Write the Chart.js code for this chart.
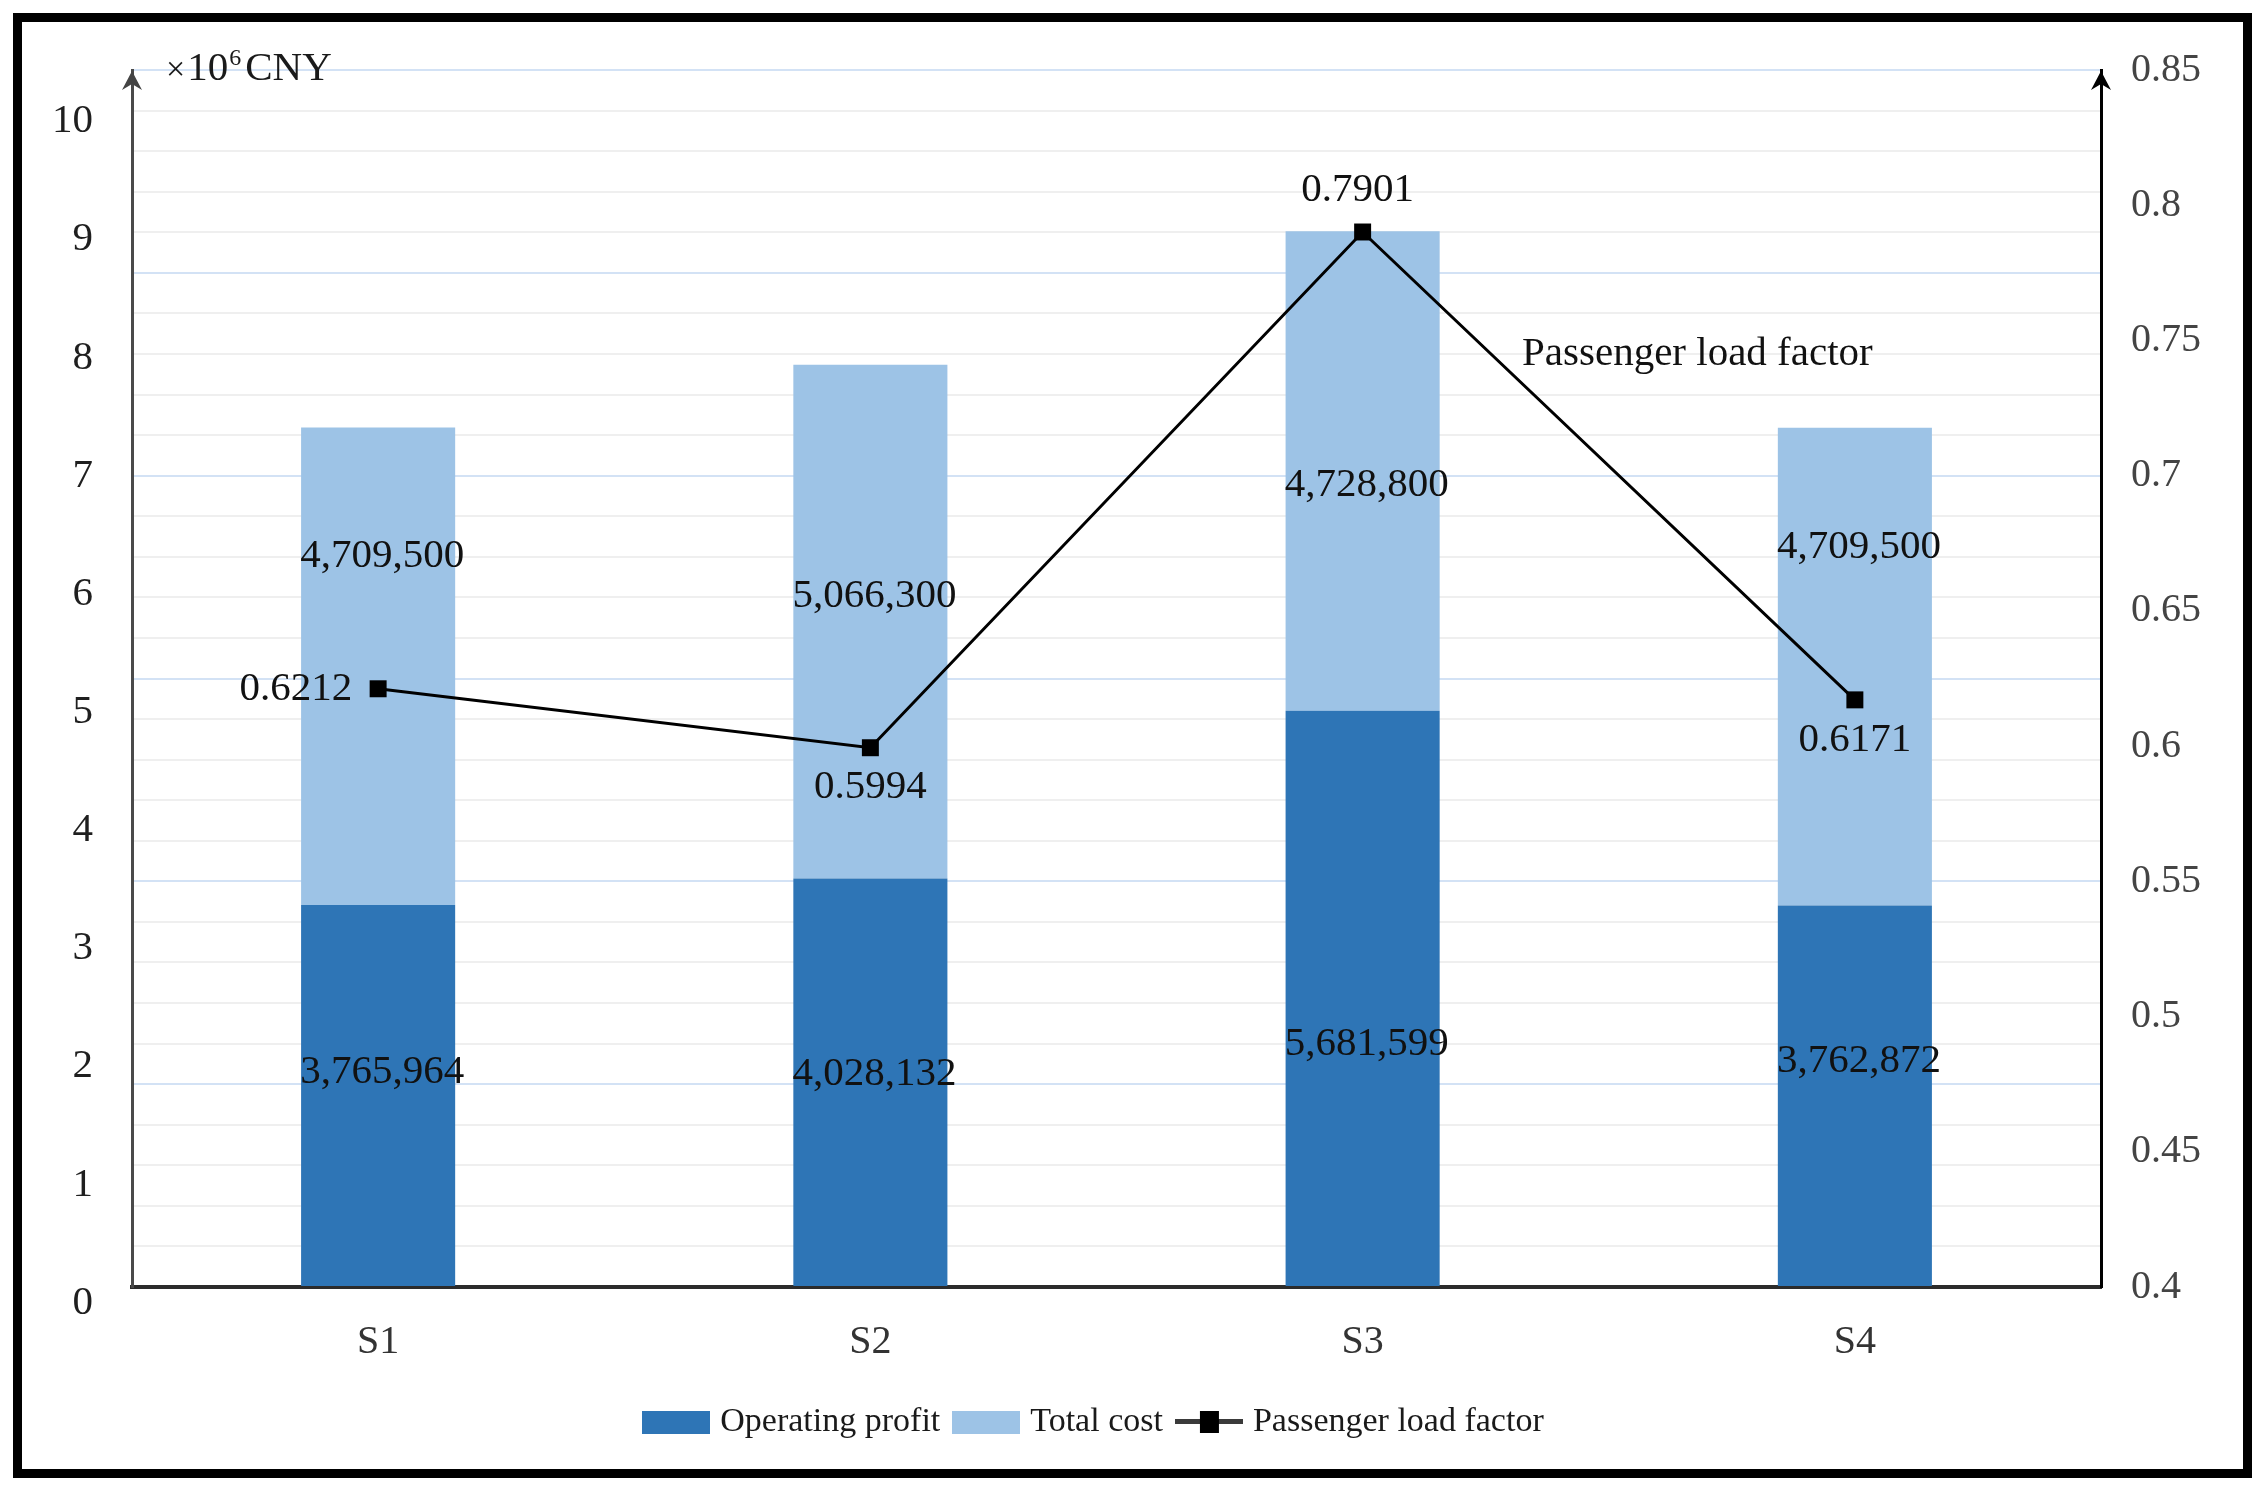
<!DOCTYPE html>
<html>
<head>
<meta charset="utf-8">
<title>Operating profit, total cost and passenger load factor</title>
<script src="https://cdn.jsdelivr.net/npm/chart.js@4.4.1/dist/chart.umd.min.js"></script>
<style>
  html, body { margin: 0; padding: 0; background: #fff; overflow: hidden; }
  #chart { position: absolute; left: 0; top: 0; width: 2267px; height: 1490px; }
  #frame {
    position: absolute; left: 13px; top: 13px; width: 2239px; height: 1465px;
    border: 9px solid #000; box-sizing: border-box; pointer-events: none;
  }
</style>
</head>
<body>
<canvas id="chart" width="2267" height="1490"></canvas>
<div id="frame"></div>
<script>
  // values
  const categories = ["S1", "S2", "S3", "S4"];
  const operatingProfit = [3765964, 4028132, 5681599, 3762872];
  const totalCost = [4709500, 5066300, 4728800, 4709500];
  const loadFactor = [0.6212, 0.5994, 0.7901, 0.6171];
  const leftTickLabels = [0, 1, 2, 3, 4, 5, 6, 7, 8, 9, 10];

  const DARK = "#2E75B6";
  const LIGHT = "#9DC3E6";
  const SERIF = "'Liberation Serif', 'Times New Roman', serif";

  function makeBoxSwatch(color) {
    const c = document.createElement("canvas");
    c.width = 68;
    c.height = 23;
    const g = c.getContext("2d");
    g.fillStyle = color;
    g.fillRect(0, 0, 68, 23);
    return c;
  }

  function makeLineSwatch() {
    const c = document.createElement("canvas");
    c.width = 68;
    c.height = 24;
    const g = c.getContext("2d");
    g.fillStyle = "#3a3a3a";
    g.fillRect(0, 9, 68, 5);
    g.fillStyle = "#000";
    g.fillRect(25, 1, 19, 22);
    return c;
  }

  function isMajor(v) {
    return Math.abs(v / 2 - Math.round(v / 2)) < 1e-6;
  }

  function drawArrow(ctx, x, y, color) {
    ctx.fillStyle = color;
    ctx.beginPath();
    ctx.moveTo(x, y);
    ctx.lineTo(x - 10, y + 19);
    ctx.lineTo(x, y + 13);
    ctx.lineTo(x + 10, y + 19);
    ctx.closePath();
    ctx.fill();
  }

  // value labels, series name, axis unit and arrow heads
  const annotatePlugin = {
    id: "annotate",
    afterLayout(chart, args, opts) {
      // the legend sits a little left of the page centre
      if (chart.legend) chart.legend.right -= opts.legendShift;
    },
    afterDatasetsDraw(chart, args, opts) {
      const ctx = chart.ctx;
      const area = chart.chartArea;
      ctx.save();
      ctx.font = "41px " + SERIF;
      ctx.fillStyle = "#111";
      ctx.textBaseline = "middle";

      const barSeries = [operatingProfit, totalCost];
      barSeries.forEach((values, di) => {
        const meta = chart.getDatasetMeta(di);
        meta.data.forEach((bar, i) => {
          const p = bar.getProps(["x", "y", "base"], true);
          const t = opts.barAnchors[di][i];
          ctx.textAlign = "center";
          ctx.fillText(values[i].toLocaleString("en-US"), p.x + 4, p.base + (p.y - p.base) * t);
        });
      });

      const lineMeta = chart.getDatasetMeta(2);
      lineMeta.data.forEach((pt, i) => {
        const where = opts.pointLabels[i];
        let tx = pt.x;
        let ty = pt.y;
        ctx.textAlign = "center";
        if (where === "left") {
          ctx.textAlign = "right";
          tx = pt.x - 26;
        } else if (where === "below") {
          ty = pt.y + 40;
        } else {
          ty = pt.y - 42;
          tx = pt.x - 5;
        }
        ctx.fillText(String(loadFactor[i]), tx, ty);
      });

      const xs = chart.scales.x;
      const nl = opts.seriesName;
      const x0 = xs.getPixelForValue(nl.from);
      const x1 = xs.getPixelForValue(nl.from + 1);
      ctx.textAlign = "center";
      ctx.fillText("Passenger load factor", x0 + (x1 - x0) * nl.t, chart.scales.y2.getPixelForValue(nl.value));

      // unit of the left axis
      ctx.textAlign = "left";
      ctx.textBaseline = "alphabetic";
      ctx.fillStyle = "#1a1a1a";
      let ux = area.left + 34;
      const uy = 80;
      ctx.font = "34px " + SERIF;
      ctx.fillText("\u00d7", ux, uy);
      ux += ctx.measureText("\u00d7").width + 2;
      ctx.font = "41px " + SERIF;
      ctx.fillText("10", ux, uy);
      ux += ctx.measureText("10").width + 1;
      ctx.font = "24px " + SERIF;
      ctx.fillText("6", ux, uy - 15);
      ux += ctx.measureText("6").width + 4;
      ctx.font = "41px " + SERIF;
      ctx.fillText("CNY", ux, uy);

      drawArrow(ctx, area.left, area.top + 1, "#444");
      drawArrow(ctx, area.right, area.top + 1, "#000");
      ctx.restore();
    }
  };

  function initChart(target) {
    const swatches = [makeBoxSwatch(DARK), makeBoxSwatch(LIGHT), makeLineSwatch()];

    const data = {
      labels: categories,
      datasets: [
        {
          type: "bar",
          label: "Operating profit",
          data: operatingProfit.map((v) => v / 1e6),
          backgroundColor: DARK,
          yAxisID: "y",
          order: 2
        },
        {
          type: "bar",
          label: "Total cost",
          data: totalCost.map((v) => v / 1e6),
          backgroundColor: LIGHT,
          yAxisID: "y",
          order: 2
        },
        {
          type: "line",
          label: "Passenger load factor",
          data: loadFactor,
          yAxisID: "y2",
          borderColor: "#000",
          borderWidth: 3,
          pointStyle: "rect",
          pointRadius: 12,
          pointBorderWidth: 0,
          pointBackgroundColor: "#000",
          tension: 0,
          order: 0
        }
      ]
    };

    const config = {
      data: data,
      options: {
        responsive: false,
        animation: false,
        devicePixelRatio: 1,
        layout: { padding: { left: 0, right: 0, top: 70, bottom: 41 } },
        datasets: {
          bar: { barPercentage: 1, categoryPercentage: 0.313 }
        },
        scales: {
          x: {
            stacked: true,
            grid: { display: false, drawTicks: false },
            border: { display: true, color: "#2b2b2b", width: 4 },
            ticks: { padding: 31, color: "#333", font: { family: SERIF, size: 40 } },
            afterFit: (s) => { s.height = 99; }
          },
          yl: {
            position: "left",
            min: 0,
            max: 10.3,
            grid: { display: false, drawTicks: false },
            border: { display: true, color: "#4a4a4a", width: 3 },
            afterBuildTicks: (s) => { s.ticks = leftTickLabels.map((v) => ({ value: v })); },
            ticks: {
              padding: 39,
              labelOffset: 16,
              color: "#1f1f1f",
              font: { family: SERIF, size: 41 },
              callback: (v) => String(v)
            },
            afterFit: (s) => { s.width = 132; }
          },
          y: {
            position: "left",
            stacked: true,
            min: 0,
            max: 12,
            grid: {
              drawTicks: false,
              color: (c) => (isMajor(c.tick.value) ? "#d3e2f5" : "#efefef"),
              lineWidth: 2
            },
            border: { display: false },
            ticks: { display: false, stepSize: 0.4 },
            afterFit: (s) => { s.width = 0; }
          },
          y2: {
            position: "right",
            min: 0.4,
            max: 0.85,
            grid: { display: false, drawTicks: false },
            border: { display: true, color: "#000", width: 3 },
            ticks: {
              stepSize: 0.05,
              padding: 30,
              color: "#444",
              font: { family: SERIF, size: 40 },
              callback: (v) => String(parseFloat(v.toFixed(2)))
            },
            afterFit: (s) => { s.width = 166; }
          }
        },
        plugins: {
          tooltip: { enabled: false },
          legend: {
            position: "bottom",
            labels: {
              usePointStyle: true,
              pointStyleWidth: 54,
              padding: 19,
              color: "#1a1a1a",
              font: { family: SERIF, size: 34 },
              sort: (a, b) => a.datasetIndex - b.datasetIndex,
              generateLabels: (chart) => chart.data.datasets.map((ds, i) => ({
                text: ds.label,
                pointStyle: swatches[i],
                datasetIndex: i,
                fontColor: "#1a1a1a",
                fillStyle: "transparent",
                strokeStyle: "transparent",
                lineWidth: 0,
                hidden: false
              }))
            }
          },
          annotate: {
            legendShift: 74,
            barAnchors: [
              [0.56, 0.52, 0.42, 0.59],
              [0.73, 0.55, 0.47, 0.75]
            ],
            pointLabels: ["left", "below", "above", "below"],
            seriesName: { from: 2, t: 0.68, value: 0.745 }
          }
        }
      },
      plugins: [annotatePlugin]
    };

    return new Chart(target, config);
  }

  document.addEventListener("DOMContentLoaded", () => {
    initChart(document.querySelector("#chart"));
  });
</script>
</body>
</html>
